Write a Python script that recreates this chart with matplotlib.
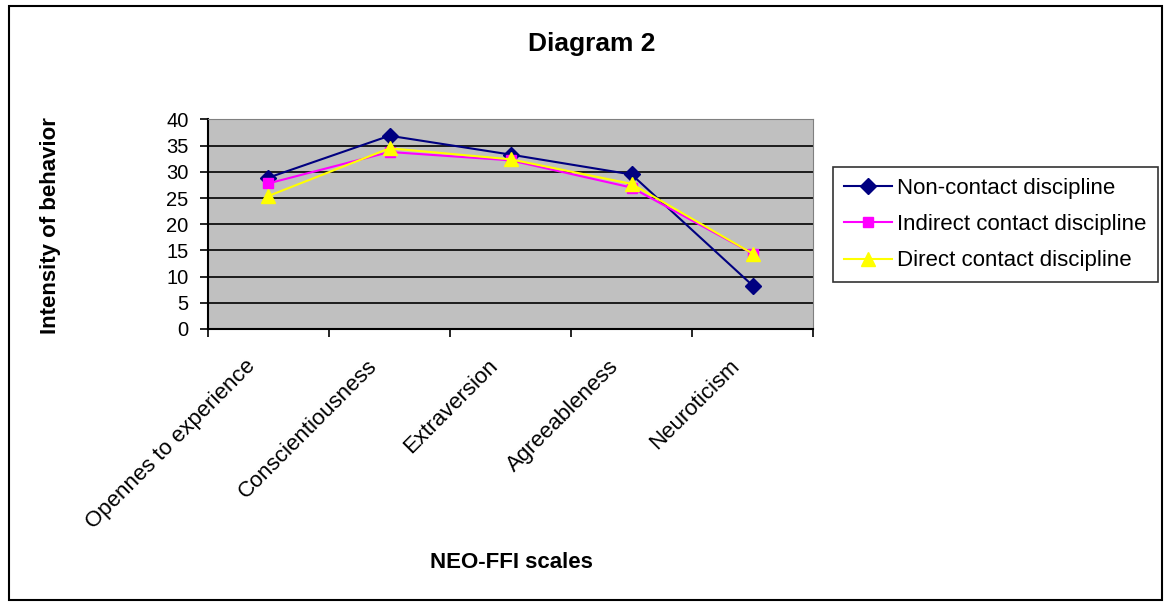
import matplotlib.pyplot as plt
from matplotlib.patches import Rectangle

plt.rcParams['font.family'] = ['Liberation Sans', 'DejaVu Sans']

# data
scales = ['Opennes to experience', 'Conscientiousness', 'Extraversion',
          'Agreeableness', 'Neuroticism']
non_contact = [28.9, 36.9, 33.3, 29.5, 8.3]
indirect_contact = [27.8, 33.8, 32.2, 27.0, 14.4]
direct_contact = [25.4, 34.5, 32.4, 27.7, 14.4]

fig = plt.figure(figsize=(11.65, 6.02), dpi=100)
ax = fig.add_axes([0.1785, 0.4535, 0.5195, 0.348])

x = list(range(len(scales)))
ax.plot(x, non_contact, color='#000080', marker='D', markersize=8, lw=1.5,
        label='Non-contact discipline', zorder=3)
ax.plot(x, indirect_contact, color='#FF00FF', marker='s', markersize=7.5, lw=1.5,
        label='Indirect contact discipline', zorder=3)
ax.plot(x, direct_contact, color='#FFFF00', marker='^', markersize=9.5, lw=1.5,
        label='Direct contact discipline', zorder=4)

ax.set_facecolor('#C0C0C0')
ax.set_xlim(-0.5, len(scales) - 0.5)
ax.set_ylim(0, 40)
ax.set_yticks(range(0, 41, 5))
ax.yaxis.grid(True, color='black', lw=1.2)
ax.set_axisbelow(True)

# ticks at category boundaries, labels placed under the category centres
ax.set_xticks([i - 0.5 for i in range(len(scales) + 1)])
ax.set_xticklabels([])
for i, name in enumerate(scales):
    ax.annotate(name, xy=(i, 0), xycoords=('data', 'axes fraction'),
                xytext=(-11.5, -24.5), textcoords='offset points',
                rotation=45, ha='right', va='center', rotation_mode='anchor',
                fontsize=16, annotation_clip=False)
ax.tick_params(axis='both', which='major', direction='out', length=6,
               width=1.2, labelsize=14.5, pad=8)

ax.spines['left'].set_linewidth(1.5)
ax.spines['bottom'].set_linewidth(1.5)
ax.spines['top'].set_color('#808080')
ax.spines['right'].set_color('#808080')

fig.text(0.508, 0.927, 'Diagram 2', ha='center', va='center',
         fontsize=19, fontweight='bold')
fig.text(0.043, 0.626, 'Intensity of behavior', rotation=90, ha='center',
         va='center', fontsize=16, fontweight='bold')
fig.text(0.4386, 0.0648, 'NEO-FFI scales', ha='center', va='center',
         fontsize=16, fontweight='bold')

leg = ax.legend(loc='upper left', bbox_to_anchor=(0.715, 0.5216, 0.279, 0.201),
                bbox_transform=fig.transFigure, mode='expand', fontsize=16,
                frameon=True, fancybox=False, edgecolor='black',
                borderaxespad=0, handlelength=2.15, handletextpad=0.25,
                labelspacing=0.68, borderpad=0.5)
leg.get_frame().set_linewidth(1.2)

fig.patches.append(Rectangle((9 / 1165, 2 / 602), 1153 / 1165, 594 / 602,
                             transform=fig.transFigure, fill=False,
                             edgecolor='black', lw=1.5))

fig.savefig('out.png', dpi=100)
